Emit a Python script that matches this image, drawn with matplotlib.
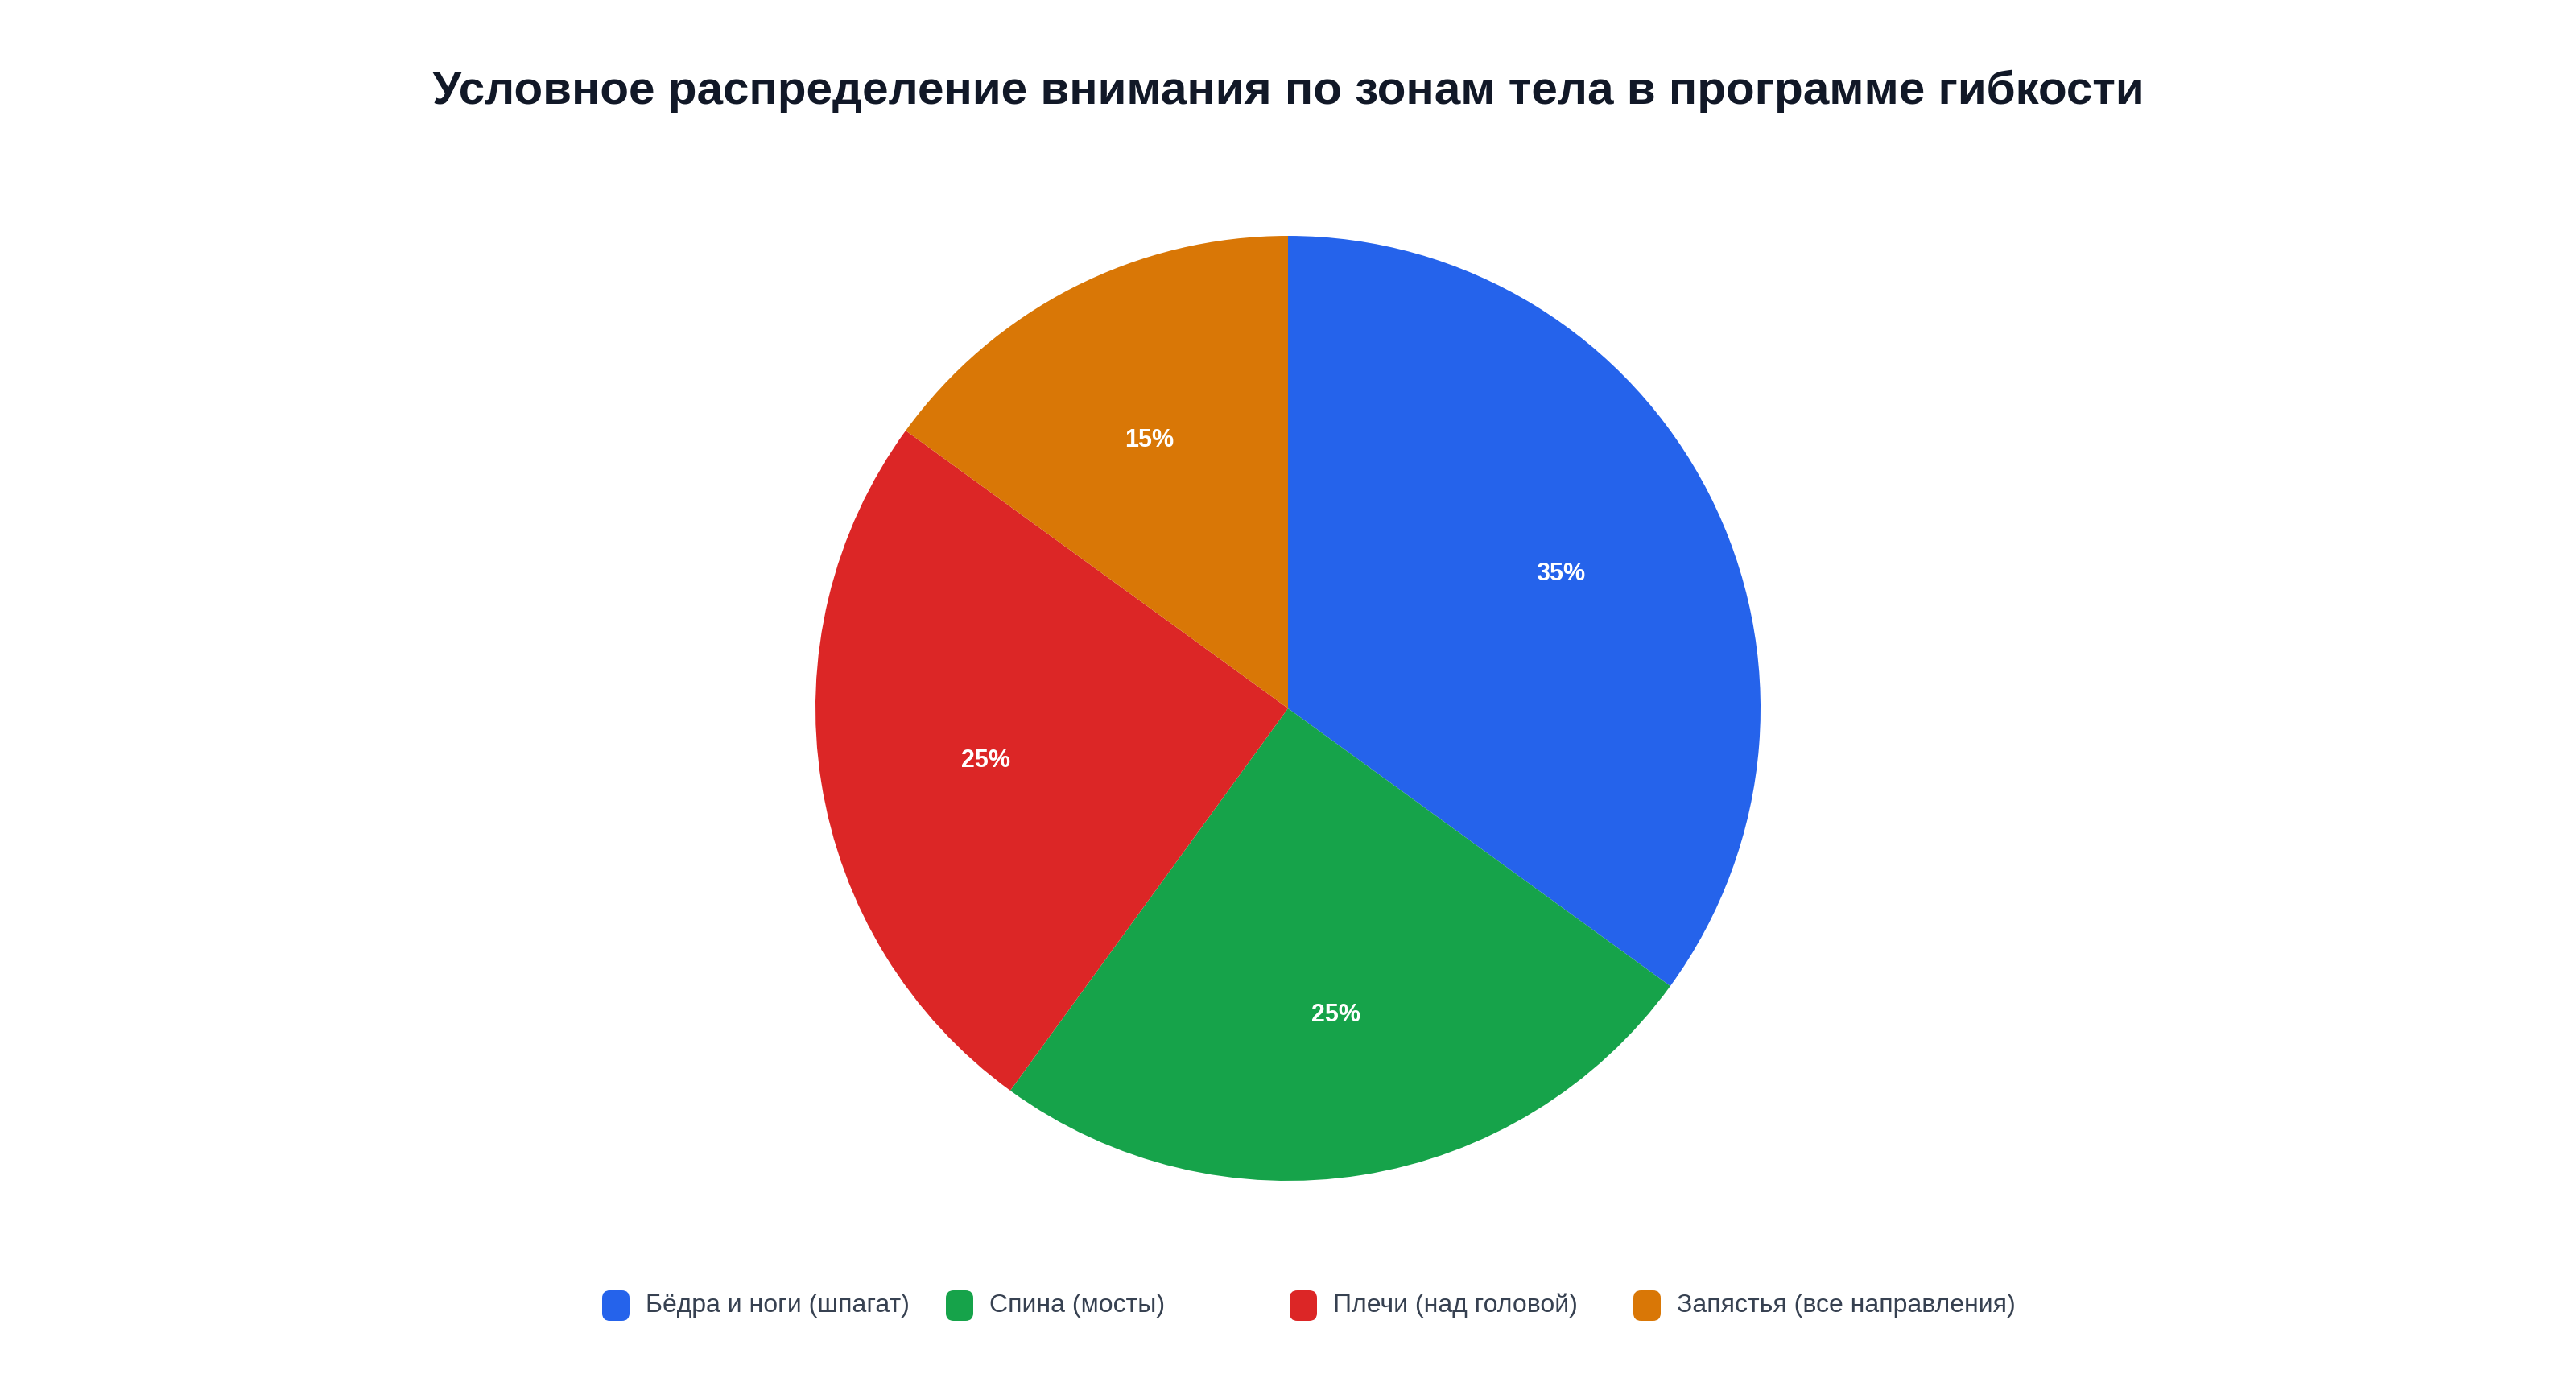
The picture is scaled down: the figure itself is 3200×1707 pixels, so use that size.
import matplotlib
matplotlib.use("Agg")
import matplotlib.pyplot as plt
from matplotlib.patches import FancyBboxPatch

# data
labels = ["Бёдра и ноги (шпагат)", "Спина (мосты)", "Плечи (над головой)", "Запястья (все направления)"]
values = [35, 25, 25, 15]
colors = ["#2563EB", "#16A34A", "#DC2626", "#D97706"]
title = "Условное распределение внимания по зонам тела в программе гибкости"

W, H = 3200, 1707
DPI = 200
plt.rcParams['font.family'] = ['Liberation Sans', 'DejaVu Sans']

fig = plt.figure(figsize=(W / DPI, H / DPI), dpi=DPI)
fig.patch.set_facecolor("white")

# pie placement in pixels
cx, cy, r = 1600, 880, 587
ax = fig.add_axes([(cx - r) / W, (H - cy - r) / H, 2 * r / W, 2 * r / H])
wedges, texts, autotexts = ax.pie(
    values, colors=colors, startangle=90, counterclock=False,
    autopct=lambda p: f"{p:.0f}%", pctdistance=0.647, radius=1,
    wedgeprops=dict(linewidth=0),
    textprops=dict(color="white", fontsize=11, fontweight="bold"))
# nudge labels down a bit to match visual centre
for t in autotexts:
    px, py = t.get_position()
    t.set_position((px, py - 0.01))
ax.set_xlim(-1, 1)
ax.set_ylim(-1, 1)
ax.set_aspect("equal")
ax.axis("off")

fig.text(0.5, 1 - 114 / H, title, ha="center", va="center",
         fontsize=21, fontweight="bold", color="#111827")

# legend, equal spacing
leg_y = 1622
x0, step = 748, 427
sq_w, sq_h = 34, 38
for i, (lab, col) in enumerate(zip(labels, colors)):
    x = x0 + i * step
    patch = FancyBboxPatch(((x) / W, (H - leg_y - sq_h / 2) / H), sq_w / W, sq_h / H,
                           boxstyle="round,pad=0,rounding_size=0.003",
                           transform=fig.transFigure, facecolor=col,
                           edgecolor="none", mutation_aspect=W / H)
    fig.add_artist(patch)
    fig.text((x + 54) / W, (H - leg_y) / H, lab, ha="left", va="center",
             fontsize=11.5, color="#374151")

fig.savefig("out.png", dpi=DPI, facecolor="white")
